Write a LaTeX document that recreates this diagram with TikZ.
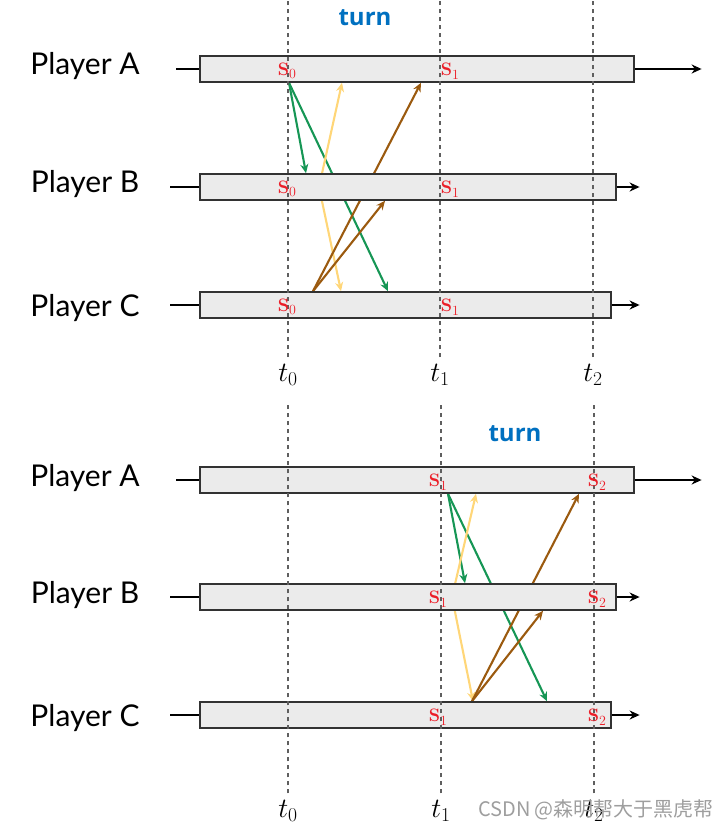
\RequirePackage{fix-cm}
\documentclass[tikz,border=0pt]{standalone}
\usepackage{fontspec}
\usepackage{xcolor}
\usetikzlibrary{arrows.meta,positioning,backgrounds}
\newfontfamily\playerfont{Lato}
\newfontfamily\turnfont{Open Sans}
\newfontfamily\cjkfont{Noto Sans CJK SC}
\newcommand{\statesub}[1]{\textbf{S}\raisebox{-3.5pt}{\fontsize{14}{16}\selectfont #1}}
\definecolor{sendgreen}{RGB}{22,150,85}
\definecolor{sendyellow}{RGB}{255,214,120}
\definecolor{sendbrown}{RGB}{155,90,15}
\definecolor{turnblue}{RGB}{0,112,192}
\definecolor{statered}{RGB}{235,30,40}
\definecolor{barfill}{RGB}{235,235,235}
\definecolor{bardraw}{RGB}{50,50,50}
\definecolor{guidegrey}{RGB}{95,95,95}
\begin{document}
\begin{tikzpicture}[x=1pt, y=-1pt,
  player/.style={anchor=base, font=\playerfont\fontsize{30}{34}\selectfont},
  bar/.style={draw=bardraw, fill=barfill, line width=1.6pt, anchor=west, inner sep=0pt, minimum height=26pt, minimum width=#1},
  statelabel/.style={text=statered, inner sep=1pt, font=\fontsize{18}{22}\selectfont},
  timelabel/.style={anchor=base, font=\fontsize{28}{32}\selectfont},
  turnlabel/.style={text=turnblue, font=\turnfont\bfseries\fontsize{24}{28}\selectfont},
  guide/.style={draw=guidegrey, line width=1.2pt, dash pattern=on 4pt off 4pt, shorten <=3pt},
  axis/.style={line width=1.9pt},
  axisarr/.style={axis, -{Stealth[length=10pt,width=9pt]}},
  msg/.style={line width=2.1pt, -{Stealth[length=9pt,width=8pt]}, draw=#1},
  watermark/.style={text=black!38, font=\cjkfont\fontsize{20}{24}\selectfont}]
\useasboundingbox (0,0) rectangle (726,829);
\node[bar=434pt] (A1) at (199,69) {};
\node[bar=416pt] (B1) at (199,187) {};
\node[bar=411pt] (C1) at (199,305) {};
\node[bar=434pt] (A2) at (199,480) {};
\node[bar=416pt] (B2) at (199,597) {};
\node[bar=411pt] (C2) at (199,715) {};
\node[player] (pA1) at (85,75) {Player A};
\node[player] (pB1) at (85,193) {Player B};
\node[player] (pC1) at (85,316) {Player C};
\node[player] (pA2) at (85,486) {Player A};
\node[player] (pB2) at (85,603) {Player B};
\node[player] (pC2) at (85,726) {Player C};
\draw[axis] ([xshift=-23pt]A1.west) -- (A1.west);
\draw[axis] ([xshift=-29pt]B1.west) -- (B1.west);
\draw[axis] ([xshift=-29pt]C1.west) -- (C1.west);
\draw[axis] ([xshift=-23pt]A2.west) -- (A2.west);
\draw[axis] ([xshift=-29pt]B2.west) -- (B2.west);
\draw[axis] ([xshift=-29pt]C2.west) -- (C2.west);
\draw[axisarr] (A1.east) -- ++(67,0);
\draw[axisarr] (B1.east) -- ++(23,0);
\draw[axisarr] (C1.east) -- ++(28,0);
\draw[axisarr] (A2.east) -- ++(67,0);
\draw[axisarr] (B2.east) -- ++(23,0);
\draw[axisarr] (C2.east) -- ++(28,0);
\begin{scope}[on background layer]
\draw[msg=sendgreen] ([xshift=90pt]A1.south west) -- ([xshift=107pt]B1.north west);
\draw[msg=sendgreen] ([xshift=90pt]A1.south west) -- ([xshift=189pt]C1.north west);
\draw[msg=sendyellow] ([xshift=120pt]B1.west) -- ([xshift=143pt]A1.south west);
\draw[msg=sendyellow] ([xshift=120pt]B1.west) -- ([xshift=142pt]C1.north west);
\draw[msg=sendbrown] ([xshift=114pt]C1.north west) -- ([xshift=222pt]A1.south west);
\draw[msg=sendbrown] ([xshift=114pt]C1.north west) -- ([xshift=186pt]B1.south west);
\draw[msg=sendgreen] ([xshift=249pt]A2.south west) -- ([xshift=266pt]B2.north west);
\draw[msg=sendgreen] ([xshift=249pt]A2.south west) -- ([xshift=348pt]C2.north west);
\draw[msg=sendyellow] ([xshift=253pt]B2.west) -- ([xshift=277pt]A2.south west);
\draw[msg=sendyellow] ([xshift=253pt]B2.west) -- ([xshift=274pt]C2.north west);
\draw[msg=sendbrown] ([xshift=273pt]C2.north west) -- ([xshift=380pt]A2.south west);
\draw[msg=sendbrown] ([xshift=273pt]C2.north west) -- ([xshift=344pt]B2.south west);
\end{scope}
\node[timelabel] (t0a) at (288,381) {$t_0$};
\node[timelabel] (t1a) at (440,381) {$t_1$};
\node[timelabel] (t2a) at (593,381) {$t_2$};
\node[timelabel] (t0b) at (288,817) {$t_0$};
\node[timelabel] (t1b) at (441,817) {$t_1$};
\node[timelabel] (t2b) at (594,817) {$t_2$};
\draw[guide] (t0a.north) -- (t0a.north |- 0,0);
\draw[guide] (t1a.north) -- (t1a.north |- 0,0);
\draw[guide] (t2a.north) -- (t2a.north |- 0,0);
\draw[guide] (t0b.north) -- (t0b.north |- 0,403);
\draw[guide] (t1b.north) -- (t1b.north |- 0,403);
\draw[guide] (t2b.north) -- (t2b.north |- 0,403);
\node[statelabel] (s0A1) at (287,71) {\statesub{0}};
\node[statelabel] (s1A1) at (450,71) {\statesub{1}};
\node[statelabel] (s0B1) at (287,189) {\statesub{0}};
\node[statelabel] (s1B1) at (450,189) {\statesub{1}};
\node[statelabel] (s0C1) at (287,307) {\statesub{0}};
\node[statelabel] (s1C1) at (450,307) {\statesub{1}};
\node[statelabel] (s1A2) at (438,482) {\statesub{1}};
\node[statelabel] (s2A2) at (597,482) {\statesub{2}};
\node[statelabel] (s1B2) at (438,599) {\statesub{1}};
\node[statelabel] (s2B2) at (597,599) {\statesub{2}};
\node[statelabel] (s1C2) at (438,717) {\statesub{1}};
\node[statelabel] (s2C2) at (597,717) {\statesub{2}};
\node[turnlabel] (turn1) at (365,18) {turn};
\node[turnlabel] (turn2) at (515,434) {turn};
\node[watermark] (wm) at (596,810) {CSDN @森明帮大于黑虎帮};
\end{tikzpicture}
\end{document}
